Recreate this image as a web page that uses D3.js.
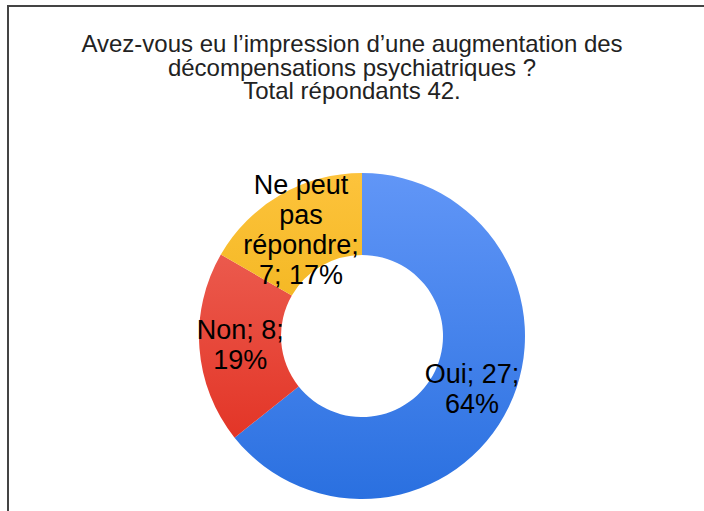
<!DOCTYPE html>
<html>
<head>
<meta charset="utf-8">
<script src="https://cdn.jsdelivr.net/npm/d3@7"></script>
<style>
  body { margin: 0; background: #fff; }
  svg text { font-family: "Liberation Sans", Arial, sans-serif; }
</style>
</head>
<body>
<div id="chart"></div>
<script>
// Data
var titleLines = ["Avez-vous eu l\u2019impression d\u2019une augmentation des", "d\u00e9compensations psychiatriques ?", "Total r\u00e9pondants 42."];
var categories = ["Oui", "Non", "Ne peut pas r\u00e9pondre"];
var values = [27, 8, 7];
var colorsTop = ["#6196f7", "#ef6a5e", "#fdc33c"];
var colorsBottom = ["#2a70e0", "#e0291a", "#e6a800"];

var width = 704, height = 511;
var cx = 362, cy = 336;
var outerR = 163, innerR = 81;

var svg = d3.select("#chart").append("svg")
    .attr("width", width)
    .attr("height", height);

// Frame (top and left edges only visible)
svg.append("path")
    .attr("d", "M8," + height + "V6H" + width)
    .attr("fill", "none")
    .attr("stroke", "#444")
    .attr("stroke-width", 2);

// Title
svg.append("text")
    .attr("text-anchor", "middle")
    .attr("fill", "#222")
    .style("font-size", "24px")
    .selectAll("tspan")
    .data(titleLines)
    .enter().append("tspan")
    .attr("x", 352)
    .attr("y", (d, i) => 52 + i * 23.5)
    .text(d => d);

var total = d3.sum(values);
var data = categories.map((c, i) => ({ name: c, value: values[i], idx: i }));

// Vertical gradients, one per slice colour (in the donut group's space)
var defs = svg.append("defs");
data.forEach(function(d) {
    var lg = defs.append("linearGradient")
        .attr("id", "grad" + d.idx)
        .attr("gradientUnits", "userSpaceOnUse")
        .attr("x1", 0).attr("x2", 0)
        .attr("y1", -outerR).attr("y2", outerR);
    lg.append("stop").attr("offset", "0%").attr("stop-color", colorsTop[d.idx]);
    lg.append("stop").attr("offset", "100%").attr("stop-color", colorsBottom[d.idx]);
});

var pie = d3.pie().value(d => d.value).sort(null);
var arc = d3.arc().innerRadius(innerR).outerRadius(outerR);
var labelArc = d3.arc().innerRadius((innerR + outerR) / 2).outerRadius((innerR + outerR) / 2);

var arcs = pie(data);
var g = svg.append("g").attr("transform", "translate(" + cx + "," + cy + ")");

g.selectAll("path.slice")
    .data(arcs)
    .enter().append("path")
    .attr("class", "slice")
    .attr("d", arc)
    .attr("fill", d => "url(#grad" + d.data.idx + ")");

// Word-wrap the labels like the spreadsheet does
function wrapWords(text, maxW, fontSize) {
    var words = text.split(" ");
    var lines = [], cur = "";
    var tmp = svg.append("text").style("font-size", fontSize + "px");
    words.forEach(function(w) {
        var test = cur ? cur + " " + w : w;
        tmp.text(test);
        if (cur && tmp.node().getComputedTextLength() > maxW) {
            lines.push(cur);
            cur = w;
        } else {
            cur = test;
        }
    });
    if (cur) lines.push(cur);
    tmp.remove();
    return lines;
}

var fontSize = 27, lineH = 30;
arcs.forEach(function(d) {
    var pct = Math.round(d.data.value / total * 100);
    var label = d.data.name + "; " + d.data.value + "; " + pct + "%";
    var lines = wrapWords(label, 112, fontSize);
    var c = labelArc.centroid(d);
    var t = g.append("text")
        .attr("text-anchor", "middle")
        .attr("fill", "#000")
        .style("font-size", fontSize + "px");
    lines.forEach(function(l, i) {
        t.append("tspan")
            .attr("x", c[0])
            .attr("y", c[1] - (lines.length - 1) * lineH / 2 + 9 + i * lineH)
            .text(l);
    });
});
</script>
</body>
</html>
